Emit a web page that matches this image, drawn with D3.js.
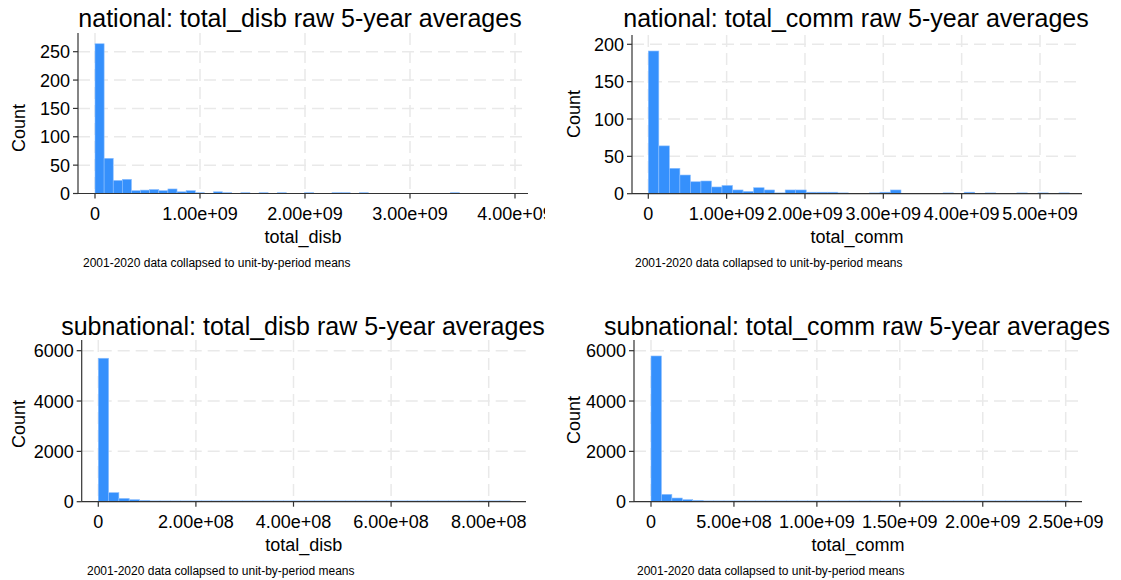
<!DOCTYPE html>
<html>
<head>
<meta charset="utf-8">
<script src="https://cdn.jsdelivr.net/npm/d3@7"></script>
<style>
  body { margin: 0; background: #fff; }
  text { font-family: "Liberation Sans", Arial, sans-serif; fill: #000; }
</style>
</head>
<body>
<div id="chart"></div>
<script>
// histogram counts, 40 equal-width bins starting at 0
var natDisbCounts = [264, 62, 23, 25, 5, 6, 7, 5, 8, 3,
                     5, 1, 0, 3, 1, 0, 1, 0, 1, 0,
                     1, 0, 0, 1, 0, 0, 1, 1, 0, 1,
                     0, 0, 0, 0, 0, 0, 0, 0, 0, 1];
var natDisbBinWidth = 0.0868e9;

var natCommCounts = [191, 64, 34, 25, 16, 17, 9, 11, 5, 3,
                     8, 5, 1, 5, 5, 2, 2, 2, 1, 0,
                     0, 1, 2, 5, 0, 0, 0, 0, 1, 0,
                     2, 0, 1, 0, 0, 1, 0, 1, 0, 1];
var natCommBinWidth = 0.1344e9;

var subDisbCounts = [5700, 360, 130, 80, 50, 30, 20, 15, 10, 8,
                     6, 5, 4, 4, 3, 3, 2, 2, 2, 2,
                     3, 2, 2, 3, 2, 3, 1, 1, 1, 1,
                     1, 2, 1, 1, 3, 2, 2, 1, 1, 2];
var subDisbBinWidth = 0.0211e9;

var subCommCounts = [5790, 292, 146, 80, 53, 25, 15, 10, 8, 6,
                     5, 4, 4, 3, 3, 2, 2, 2, 1, 1,
                     1, 1, 1, 3, 3, 1, 1, 1, 2, 2,
                     1, 1, 1, 1, 2, 2, 2, 1, 1, 2];
var subCommBinWidth = 0.0629e9;

// tick values and labels
var natDisbTicks = [0, 1e9, 2e9, 3e9, 4e9];
var natDisbTickLabels = ["0", "1.00e+09", "2.00e+09", "3.00e+09", "4.00e+09"];
var natCommTicks = [0, 1e9, 2e9, 3e9, 4e9, 5e9];
var natCommTickLabels = ["0", "1.00e+09", "2.00e+09", "3.00e+09", "4.00e+09", "5.00e+09"];
var subDisbTicks = [0, 2e8, 4e8, 6e8, 8e8];
var subDisbTickLabels = ["0", "2.00e+08", "4.00e+08", "6.00e+08", "8.00e+08"];
var subCommTicks = [0, 5e8, 1e9, 1.5e9, 2e9, 2.5e9];
var subCommTickLabels = ["0", "5.00e+08", "1.00e+09", "1.50e+09", "2.00e+09", "2.50e+09"];

var natYTicks = [0, 50, 100, 150, 200, 250];
var natCommYTicks = [0, 50, 100, 150, 200];
var subYTicks = [0, 2000, 4000, 6000];

var titles = ["national: total_disb raw 5-year averages",
              "national: total_comm raw 5-year averages",
              "subnational: total_disb raw 5-year averages",
              "subnational: total_comm raw 5-year averages"];
var xTitles = ["total_disb", "total_comm", "total_disb", "total_comm"];
var note = "2001-2020 data collapsed to unit-by-period means";

var svg = d3.select("#chart")
    .append("svg")
    .attr("width", 1121)
    .attr("height", 580);

// each exported graph is cut at its own right edge
svg.append("clipPath")
    .attr("id", "clip0")
    .append("rect")
    .attr("x", 0).attr("y", 0)
    .attr("width", 545).attr("height", 290);

// layout for each panel (pixels)
var panels = [
    { counts: natDisbCounts, bw: natDisbBinWidth, xt: natDisbTicks, xl: natDisbTickLabels, yt: natYTicks,
      xDom: [0, 4e9], xRange: [95, 515], yDom: [0, 250], yRange: [193.5, 51.7],
      left: 78, right: 528, top: 33, titleX: 300, titleY: 27, countX: 25, countY: 128, noteX: 83, clip: "clip0" },
    { counts: natCommCounts, bw: natCommBinWidth, xt: natCommTicks, xl: natCommTickLabels, yt: natCommYTicks,
      xDom: [0, 5e9], xRange: [648.3, 1040], yDom: [0, 200], yRange: [193.7, 44.3],
      left: 632, right: 1082, top: 35, titleX: 856, titleY: 27, countX: 580, countY: 114, noteX: 635 },
    { counts: subDisbCounts, bw: subDisbBinWidth, xt: subDisbTicks, xl: subDisbTickLabels, yt: subYTicks,
      xDom: [0, 8e8], xRange: [98.3, 488.7], yDom: [0, 6000], yRange: [501.7, 350.7],
      left: 81.7, right: 526, top: 340, titleX: 303, titleY: 335, countX: 25, countY: 424, noteX: 87 },
    { counts: subCommCounts, bw: subCommBinWidth, xt: subCommTicks, xl: subCommTickLabels, yt: subYTicks,
      xDom: [0, 2.5e9], xRange: [651, 1065.7], yDom: [0, 6000], yRange: [501.7, 350.7],
      left: 634, right: 1082, top: 340, titleX: 857, titleY: 335, countX: 580, countY: 420, noteX: 637 }
];

panels.forEach(function (p, i) {
    var g = svg.append("g");
    if (p.clip) g.attr("clip-path", "url(#" + p.clip + ")");
    var x = d3.scaleLinear().domain(p.xDom).range(p.xRange);
    var y = d3.scaleLinear().domain(p.yDom).range(p.yRange);
    var base = y(0);

    // grid
    g.selectAll(".hgrid")
        .data(p.yt.slice(1))
        .enter()
        .append("line")
        .attr("x1", p.left)
        .attr("x2", p.right)
        .attr("y1", function (d) { return y(d); })
        .attr("y2", function (d) { return y(d); })
        .attr("stroke", "#e9e9e9")
        .attr("stroke-width", 1.5)
        .attr("stroke-dasharray", "12,6");
    g.selectAll(".vgrid")
        .data(p.xt)
        .enter()
        .append("line")
        .attr("x1", function (d) { return x(d); })
        .attr("x2", function (d) { return x(d); })
        .attr("y1", p.top)
        .attr("y2", base)
        .attr("stroke", "#e9e9e9")
        .attr("stroke-width", 1.5)
        .attr("stroke-dasharray", "12,6");

    // bars
    var bins = p.counts.map(function (c, k) {
        return { x0: k * p.bw, x1: (k + 1) * p.bw, n: c };
    });
    g.selectAll(".bar")
        .data(bins.filter(function (d) { return d.n > 0; }))
        .enter()
        .append("rect")
        .attr("x", function (d) { return x(d.x0); })
        .attr("width", function (d) { return x(d.x1) - x(d.x0); })
        .attr("y", function (d) { return Math.min(y(d.n), base - 0.8); })
        .attr("height", function (d) { return Math.max(base - y(d.n), 0.8); })
        .attr("fill", "#3590fc")
        .attr("stroke", "#8cbfff")
        .attr("stroke-width", 0.6);

    // axes
    g.append("line")
        .attr("x1", p.left).attr("x2", p.right)
        .attr("y1", base).attr("y2", base)
        .attr("stroke", "#333").attr("stroke-width", 1.2);
    g.append("line")
        .attr("x1", p.left).attr("x2", p.left)
        .attr("y1", p.top).attr("y2", base)
        .attr("stroke", "#333").attr("stroke-width", 1.2);

    // x ticks
    g.selectAll(".xtick")
        .data(p.xt)
        .enter()
        .append("line")
        .attr("x1", function (d) { return x(d); })
        .attr("x2", function (d) { return x(d); })
        .attr("y1", base)
        .attr("y2", base + 5)
        .attr("stroke", "#333")
        .attr("stroke-width", 1.2);
    g.selectAll(".xlab")
        .data(p.xt)
        .enter()
        .append("text")
        .attr("x", function (d) { return x(d); })
        .attr("y", base + 26)
        .attr("text-anchor", "middle")
        .style("font-size", "18px")
        .text(function (d, k) { return p.xl[k]; });

    // y ticks
    g.selectAll(".ytick")
        .data(p.yt)
        .enter()
        .append("line")
        .attr("x1", p.left - 5)
        .attr("x2", p.left)
        .attr("y1", function (d) { return y(d); })
        .attr("y2", function (d) { return y(d); })
        .attr("stroke", "#333")
        .attr("stroke-width", 1.2);
    g.selectAll(".ylab")
        .data(p.yt)
        .enter()
        .append("text")
        .attr("x", p.left - 8)
        .attr("y", function (d) { return y(d) + 6.5; })
        .attr("text-anchor", "end")
        .style("font-size", "18px")
        .text(function (d) { return d; });

    // titles
    g.append("text")
        .attr("x", p.titleX)
        .attr("y", p.titleY)
        .attr("text-anchor", "middle")
        .style("font-size", "25px")
        .text(titles[i]);
    g.append("text")
        .attr("x", (p.left + p.right) / 2)
        .attr("y", base + 49)
        .attr("text-anchor", "middle")
        .style("font-size", "18px")
        .text(xTitles[i]);
    g.append("text")
        .attr("transform", "translate(" + p.countX + "," + p.countY + ") rotate(-90)")
        .attr("text-anchor", "middle")
        .style("font-size", "18px")
        .text("Count");
    g.append("text")
        .attr("x", p.noteX)
        .attr("y", base + 73)
        .style("font-size", "12px")
        .text(note);
});
</script>
</body>
</html>
